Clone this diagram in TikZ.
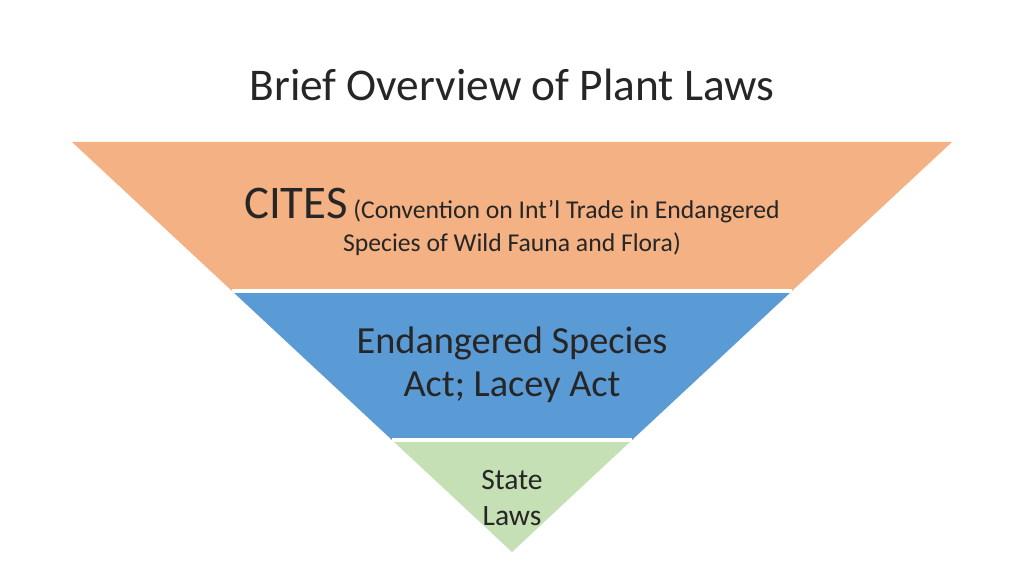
\documentclass[tikz,border=0pt]{standalone}
\usepackage{fontspec}
\setmainfont{Carlito}
\usetikzlibrary{positioning, calc}
\definecolor{citesorange}{HTML}{F4B183}
\definecolor{esablue}{HTML}{5B9BD5}
\definecolor{stategreen}{HTML}{C5E0B4}

\begin{document}
\begin{tikzpicture}[x=0.01cm, y=-0.01cm, band/.style={draw=white, line width=1pt}, label/.style={align=center, text=black!85}]
			\useasboundingbox (0,0) rectangle (1024,576);
			\coordinate (tl) at (72,142);
			\coordinate (tr) at (952,142);
			\coordinate (ml) at (232,291);
			\coordinate (mr) at (792,291);
			\coordinate (ll) at (392,440);
			\coordinate (lr) at (632,440);
			\coordinate (apex) at (512,552);
			
			\fill[citesorange] (tl) -- (tr) -- (mr) -- (ml) -- cycle;
			\fill[esablue] (ml) -- (mr) -- (lr) -- (ll) -- cycle;
			\fill[stategreen] (ll) -- (lr) -- (apex) -- cycle;
			\draw[band] (ml) -- (mr);
			\draw[band] (ll) -- (lr);
			
			\node[label, font=\fontsize{12.9}{15}\selectfont] (title) at (512,85) {Brief Overview of Plant Laws};
			\node[label, font=\fontsize{7.3}{9.6}\selectfont] (cites) at (512,222)
				{{\fontsize{13.3}{15}\selectfont CITES} (Convention on Int’l Trade in Endangered\\Species of Wild Fauna and Flora)};
			\node[label, font=\fontsize{10.9}{12.2}\selectfont] (esa) at (512,365) {Endangered Species\\Act; Lacey Act};
			\node[label, font=\fontsize{8.4}{10.3}\selectfont] (state) at (512,498) {State\\Laws};
		\end{tikzpicture}
\end{document}
